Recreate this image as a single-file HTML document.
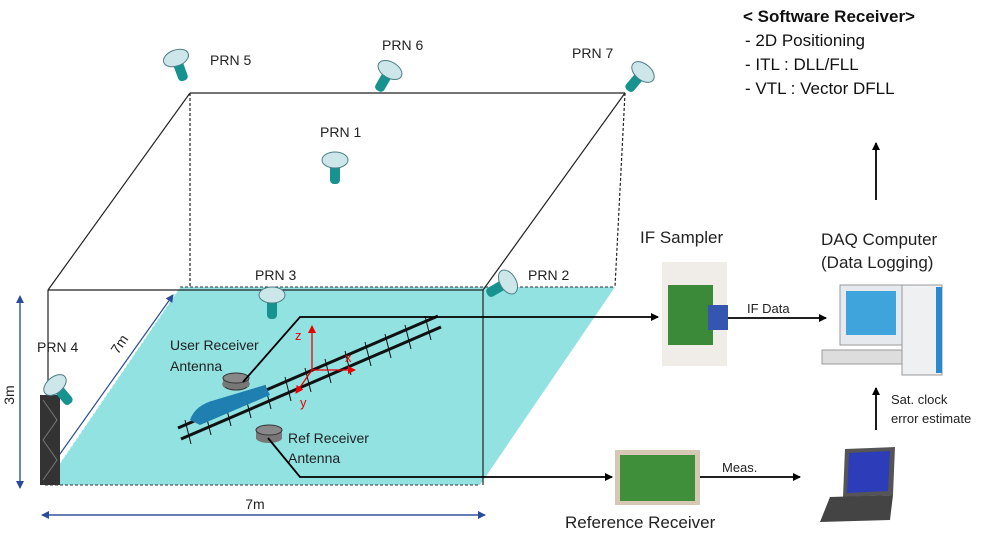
<!DOCTYPE html>
<html><head><meta charset="utf-8"><style>body{margin:0;background:#fff}svg{display:block;font-family:"Liberation Sans",sans-serif}</style></head><body>
<svg width="1000" height="535" viewBox="0 0 1000 535">
<defs>
<marker id="a" markerWidth="8" markerHeight="8" refX="7" refY="4" orient="auto" markerUnits="userSpaceOnUse"><path d="M0,0L8,4L0,8z" fill="#000"/></marker>
<marker id="r" markerWidth="8" markerHeight="8" refX="7" refY="4" orient="auto" markerUnits="userSpaceOnUse"><path d="M0,0L8,4L0,8z" fill="#e00"/></marker>
<marker id="b" markerWidth="8" markerHeight="8" refX="7" refY="4" orient="auto" markerUnits="userSpaceOnUse"><path d="M0,0L8,4L0,8z" fill="#2a4d9a"/></marker>
<g id="sat"><rect x="-5" y="0" width="10" height="24" rx="4" fill="#16938f"/><ellipse cx="0" cy="0" rx="13" ry="8" fill="#cde6ea" stroke="#4b7f86"/></g>
</defs>
<polygon points="180,287 615,287 480,485 45,485" fill="#92e2e2"/>
<line x1="180" y1="287" x2="615" y2="287" stroke="#333" stroke-dasharray="3,2"/>
<line x1="45" y1="485" x2="480" y2="485" stroke="#333" stroke-dasharray="3,2"/>
<line x1="180" y1="287" x2="45" y2="485" stroke="#fff" stroke-dasharray="3,2"/>
<g stroke="#222" fill="none" stroke-width="1.2">
<line x1="190" y1="93" x2="625" y2="93"/>
<line x1="190" y1="93" x2="48" y2="290"/>
<line x1="625" y1="93" x2="483" y2="290"/>
<line x1="48" y1="290" x2="483" y2="290"/>
<line x1="48" y1="290" x2="48" y2="485"/>
<line x1="483" y1="290" x2="483" y2="485"/>
<line x1="190" y1="93" x2="190" y2="287" stroke-dasharray="3,2"/>
<line x1="625" y1="93" x2="615" y2="287" stroke-dasharray="3,2"/>
</g>
<g stroke="#2a4d9a" stroke-width="1.2">
<line x1="20" y1="300" x2="20" y2="488" marker-end="url(#b)"/><line x1="20" y1="488" x2="20" y2="296" marker-end="url(#b)"/>
<line x1="45" y1="515" x2="485" y2="515" marker-end="url(#b)"/><line x1="485" y1="515" x2="42" y2="515" marker-end="url(#b)"/>
<line x1="45" y1="475" x2="173" y2="295" marker-end="url(#b)"/>
</g>
<text x="14" y="395" font-size="14" fill="#222" transform="rotate(-90 14 395)" text-anchor="middle">3m</text>
<text x="255" y="509" font-size="14" fill="#222" text-anchor="middle">7m</text>
<text x="118" y="355" font-size="14" fill="#222" transform="rotate(-56 118 355)">7m</text>
<rect x="40" y="395" width="20" height="90" fill="#333"/>
<path d="M43,400 L57,420 L43,440 L57,460 L43,480" stroke="#777" fill="none"/>
<use href="#sat" transform="translate(176,58) rotate(-20)"/>
<use href="#sat" transform="translate(390,70) rotate(30)"/>
<use href="#sat" transform="translate(643,72) rotate(40)"/>
<use href="#sat" transform="translate(335,160)"/>
<use href="#sat" transform="translate(272,295)"/>
<use href="#sat" transform="translate(508,282) rotate(60)"/>
<use href="#sat" transform="translate(55,385) rotate(-40)"/>
<g font-size="14" fill="#222">
<text x="210" y="65">PRN 5</text><text x="382" y="50">PRN 6</text><text x="572" y="58">PRN 7</text>
<text x="320" y="137">PRN 1</text><text x="255" y="280">PRN 3</text><text x="528" y="280">PRN 2</text><text x="37" y="352">PRN 4</text>
<text x="170" y="350">User Receiver</text><text x="170" y="371">Antenna</text>
<text x="288" y="443">Ref Receiver</text><text x="288" y="463">Antenna</text>
</g>
<g stroke="#111" stroke-width="3"><line x1="178" y1="428" x2="438" y2="316"/><line x1="181" y1="439" x2="441" y2="327"/></g>
<g stroke="#111" stroke-width="1">
<path d="M185,420 l6,24 M205,411 l6,24 M225,402 l6,24 M245,394 l6,24 M265,385 l6,24 M285,377 l6,24 M305,368 l6,24 M325,359 l6,24 M345,351 l6,24 M365,342 l6,24 M385,334 l6,24 M405,325 l6,24 M425,316 l6,24"/>
</g>
<path d="M190,420 Q195,405 215,400 L265,385 L270,395 L200,425 Z" fill="#1f7fb0"/>
<ellipse cx="236" cy="384" rx="13" ry="6" fill="#777" stroke="#333"/><rect x="223" y="378" width="26" height="9" fill="#777"/><ellipse cx="236" cy="378" rx="13" ry="5" fill="#888" stroke="#333"/>
<ellipse cx="269" cy="438" rx="13" ry="5" fill="#777"/><rect x="256" y="430" width="26" height="9" fill="#777"/><ellipse cx="269" cy="430" rx="13" ry="5" fill="#888" stroke="#333"/>
<g stroke="#e00" stroke-width="1.3"><line x1="312" y1="370" x2="312" y2="326" marker-end="url(#r)"/><line x1="312" y1="370" x2="355" y2="370" marker-end="url(#r)"/><line x1="312" y1="370" x2="296" y2="393" marker-end="url(#r)"/></g>
<g fill="#e00" font-size="13"><text x="295" y="340">z</text><text x="345" y="362">x</text><text x="300" y="407">y</text></g>
<g stroke="#000" stroke-width="1.8" fill="none">
<polyline points="243,382 300,317 658,317" marker-end="url(#a)"/>
<polyline points="268,438 300,477 612,477" marker-end="url(#a)"/>
<line x1="726" y1="318" x2="826" y2="318" marker-end="url(#a)"/>
<line x1="700" y1="477" x2="800" y2="477" marker-end="url(#a)"/>
<line x1="876" y1="430" x2="876" y2="388" marker-end="url(#a)"/>
<line x1="876" y1="200" x2="876" y2="143" marker-end="url(#a)"/>
</g>
<rect x="662" y="262" width="65" height="104" fill="#f0ece8"/><rect x="668" y="285" width="45" height="60" fill="#3a8a3a"/><rect x="708" y="305" width="20" height="25" fill="#3456b0"/>
<rect x="615" y="450" width="85" height="55" fill="#d6c8b4"/><rect x="620" y="455" width="75" height="46" fill="#3f8f3a"/>
<rect x="840" y="285" width="62" height="60" fill="#e6eaee" stroke="#999"/><rect x="846" y="291" width="50" height="44" fill="#3fa4dc"/>
<rect x="822" y="350" width="80" height="14" fill="#ddd" stroke="#999"/>
<rect x="902" y="285" width="40" height="90" fill="#eef0f2" stroke="#999"/><rect x="936" y="287" width="6" height="86" fill="#2a8ad0"/>
<path d="M845,449 L895,447 L893,495 L843,497 Z" fill="#555"/><path d="M849,453 L890,451 L888,491 L847,493 Z" fill="#2d3cb8"/>
<path d="M830,497 L893,495 L890,520 L820,522 Z" fill="#444"/>
<g font-size="17" fill="#222">
<text x="640" y="243">IF Sampler</text><text x="821" y="245">DAQ Computer</text><text x="821" y="268">(Data Logging)</text>
<text x="565" y="528">Reference Receiver</text></g>
<g font-size="13" fill="#222"><text x="747" y="313">IF Data</text><text x="722" y="472">Meas.</text>
<text x="891" y="404">Sat. clock</text><text x="891" y="423">error estimate</text></g>
<g font-size="17" fill="#111"><text x="743" y="22" font-weight="bold">&lt; Software Receiver&gt;</text>
<text x="745" y="46">- 2D Positioning</text><text x="745" y="70">- ITL : DLL/FLL</text><text x="745" y="94">- VTL : Vector DFLL</text></g>
</svg>
</body></html>
